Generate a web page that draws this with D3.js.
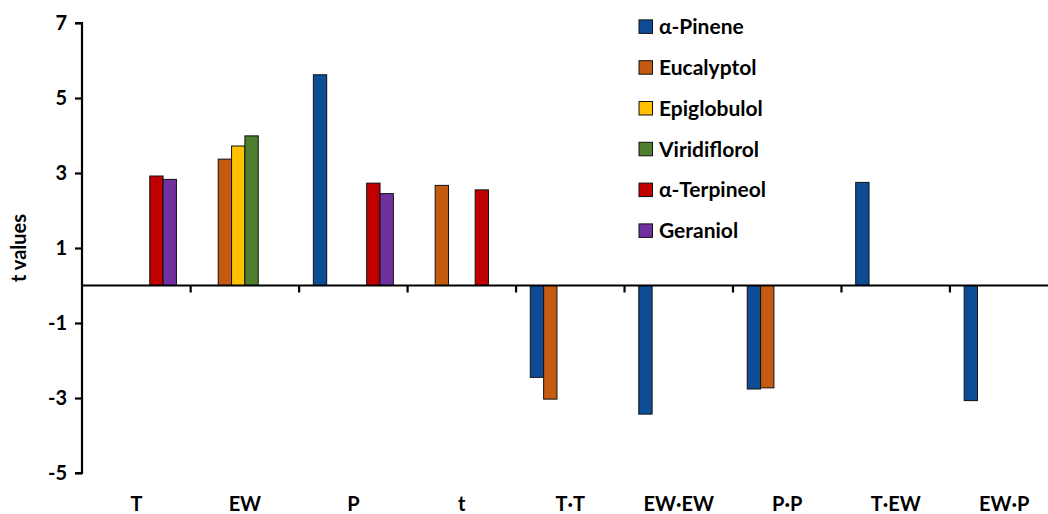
<!DOCTYPE html>
<html>
<head>
<meta charset="utf-8">
<script src="https://cdn.jsdelivr.net/npm/d3@7"></script>
<style>
  body { margin: 0; background: #fff; }
  svg { display: block; }
  text { font-family: Lato, "Open Sans", sans-serif; font-weight: bold; fill: #000; }
</style>
</head>
<body>
<div id="chart"></div>
<script>
// categories (factors) on the x axis
const categories = ["T", "EW", "P", "t", "T·T", "EW·EW", "P·P", "T·EW", "EW·P"];
const seriesNames = ["α-Pinene", "Eucalyptol", "Epiglobulol", "Viridiflorol", "α-Terpineol", "Geraniol"];
const colors = ["#0F4C96", "#C55A11", "#FFC000", "#4E7F2F", "#C00000", "#7030A0"];

// t values per compound (null = not significant, no bar)
const alphaPinene  = [null, null, 5.62, null, -2.45, -3.43, -2.76, 2.75, -3.07];
const eucalyptol   = [null, 3.37, null, 2.67, -3.03, null, -2.73, null, null];
const epiglobulol  = [null, 3.72, null, null, null, null, null, null, null];
const viridiflorol = [null, 3.99, null, null, null, null, null, null, null];
const terpineol    = [2.92, null, 2.73, 2.55, null, null, null, null, null];
const geraniol     = [2.83, null, 2.45, null, null, null, null, null, null];

const yTicks = [-5, -3, -1, 1, 3, 5, 7];

const seriesValues = [alphaPinene, eucalyptol, epiglobulol, viridiflorol, terpineol, geraniol];

const width = 1048;
const height = 514;

const svg = d3.select("#chart")
    .append("svg")
    .attr("width", width)
    .attr("height", height);

// scales
const x0 = d3.scaleBand()
    .domain(categories)
    .range([82.2, 1058.4])
    .padding(0);

const groupW = 80;
const x1 = d3.scaleBand()
    .domain(d3.range(seriesNames.length))
    .range([x0.bandwidth() / 2 - groupW / 2, x0.bandwidth() / 2 + groupW / 2])
    .padding(0);

const y = d3.scaleLinear()
    .domain([-5, 7])
    .range([473, 23]);

// bars
const bars = [];
seriesValues.forEach((vals, s) => {
    vals.forEach((v, c) => {
        if (v !== null) bars.push({ s, c: categories[c], v });
    });
});

svg.append("g")
    .selectAll("rect")
    .data(bars)
    .enter()
    .append("rect")
    .attr("x", d => x0(d.c) + x1(d.s))
    .attr("y", d => y(Math.max(0, d.v)))
    .attr("width", x1.bandwidth())
    .attr("height", d => Math.abs(y(d.v) - y(0)))
    .attr("fill", d => colors[d.s])
    .attr("stroke", "#111")
    .attr("stroke-width", 1);

// y axis
const yAxis = svg.append("g")
    .attr("transform", "translate(82,0)")
    .call(d3.axisLeft(y).tickValues(yTicks).tickSize(7).tickPadding(8).tickFormat(d => String(d)));
yAxis.select(".domain").attr("stroke", "#000").attr("stroke-width", 2.2).attr("d", `M-7,${y(7)}H0V${y(-5)}H-7`);
yAxis.selectAll(".tick line").attr("stroke", "#000").attr("stroke-width", 2.2);
yAxis.selectAll(".tick text")
    .attr("font-size", 20)
    .style("font-family", "Lato, sans-serif")
    .style("font-weight", "bold")
    .attr("fill", "#000");

// x axis along zero, ticks at category boundaries
const xAxis = svg.append("g")
    .attr("transform", `translate(0,${y(0)})`);
xAxis.append("line")
    .attr("x1", 82).attr("x2", 1058.4)
    .attr("stroke", "#000").attr("stroke-width", 2.2);
xAxis.selectAll(".xt")
    .data(categories.slice(1))
    .enter()
    .append("line")
    .attr("x1", d => x0(d)).attr("x2", d => x0(d))
    .attr("y1", 0).attr("y2", 7)
    .attr("stroke", "#000").attr("stroke-width", 2.2);

// category labels at the bottom
svg.append("g")
    .selectAll("text")
    .data(categories)
    .enter()
    .append("text")
    .attr("x", d => x0(d) + x0.bandwidth() / 2)
    .attr("y", 511)
    .attr("text-anchor", "middle")
    .attr("font-size", 20)
    .text(d => d);

// y title
svg.append("text")
    .attr("transform", "translate(26,248) rotate(-90)")
    .attr("text-anchor", "middle")
    .attr("font-size", 20)
    .text("t values");

// legend
const legend = svg.append("g");
seriesNames.forEach((name, i) => {
    const cy = 26.7 + i * 40.8;
    legend.append("rect")
        .attr("x", 639).attr("y", cy - 6.8)
        .attr("width", 13.5).attr("height", 13.5)
        .attr("fill", colors[i])
        .attr("stroke", "#111").attr("stroke-width", 1);
    legend.append("text")
        .attr("x", 659).attr("y", cy + 7.5)
        .attr("font-size", 21)
        .text(name);
});
</script>
</body>
</html>
